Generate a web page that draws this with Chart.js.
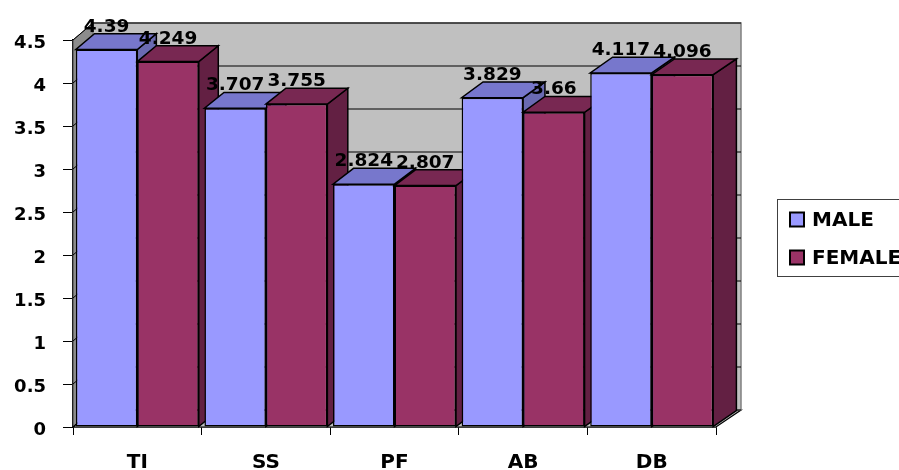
<!DOCTYPE html>
<html>
<head>
<meta charset="utf-8">
<script src="https://cdn.jsdelivr.net/npm/chart.js@4"></script>
<style>
  html, body { margin: 0; padding: 0; background: #ffffff; }
  #wrap { width: 899px; height: 470px; position: relative; }
</style>
</head>
<body>
<div id="wrap"><canvas id="c" width="899" height="470"></canvas></div>
<script>
// ---- data ----
const categories = ['TI', 'SS', 'PF', 'AB', 'DB'];
const seriesLabels = ['MALE', 'FEMALE'];
const maleValues = [4.39, 3.707, 2.824, 3.829, 4.117];
const femaleValues = [4.249, 3.755, 2.807, 3.66, 4.096];
const yMin = 0, yMax = 4.5, yStep = 0.5;

// ---- styles ----
const FONT = '"DejaVu Sans", sans-serif';
const frontColors = ['#9999FF', '#993366'];
const topColors = ['#7777CC', '#782852'];
const sideColors = ['#6A6AB2', '#632043'];
const WDXL = 20, WDXR = 25, WDY = 17, BD = 0.93;

function proj(a, x, y, d) {
  const dx = WDXL + (WDXR - WDXL) * (x - a.left) / (a.right - a.left);
  return [x + d * dx, y - d * WDY];
}
function poly(ctx, pts, fill, stroke, lw) {
  ctx.beginPath();
  ctx.moveTo(pts[0][0], pts[0][1]);
  for (let i = 1; i < pts.length; i++) ctx.lineTo(pts[i][0], pts[i][1]);
  ctx.closePath();
  if (fill) { ctx.fillStyle = fill; ctx.fill(); }
  if (stroke) { ctx.strokeStyle = stroke; ctx.lineWidth = lw || 1; ctx.stroke(); }
}

const threeD = {
  id: 'threeD',
  beforeDatasetsDraw(chart) {
    const ctx = chart.ctx, a = chart.chartArea, ys = chart.scales.y;
    ctx.save();
    ctx.lineJoin = 'miter';
    // left side wall
    poly(ctx, [proj(a, a.left, a.top, 0), proj(a, a.left, a.top, 1), proj(a, a.left, a.bottom, 1), proj(a, a.left, a.bottom, 0)], '#8C8C8C', '#404040', 1);
    // floor
    poly(ctx, [proj(a, a.left, a.bottom, 0), proj(a, a.right, a.bottom, 0), proj(a, a.right, a.bottom, 1), proj(a, a.left, a.bottom, 1)], '#C0C0C0', '#000000', 1.2);
    // back wall
    poly(ctx, [proj(a, a.left, a.top, 1), proj(a, a.right, a.top, 1), proj(a, a.right, a.bottom, 1), proj(a, a.left, a.bottom, 1)], '#C0C0C0', '#808080', 1.5);
    // grid lines on walls
    ctx.strokeStyle = '#000000';
    ctx.lineWidth = 1;
    ys.ticks.forEach(t => {
      const py = ys.getPixelForValue(t.value);
      const p0 = proj(a, a.left, py, 0), p1 = proj(a, a.left, py, 1), p2 = proj(a, a.right, py, 1);
      ctx.beginPath();
      ctx.moveTo(p0[0], p0[1]); ctx.lineTo(p1[0], p1[1]); ctx.lineTo(p2[0], p2[1]);
      ctx.stroke();
    });
    // bars, left to right
    const bars = [];
    chart.data.datasets.forEach((ds, di) => {
      chart.getDatasetMeta(di).data.forEach((el, i) => bars.push({ el, di, i }));
    });
    bars.sort((p, q) => p.el.x - q.el.x);
    bars.forEach(({ el, di }) => {
      const p = el.getProps(['x', 'y', 'base', 'width'], true);
      const l = p.x - p.width / 2, r = p.x + p.width / 2, t = p.y, b = p.base;
      poly(ctx, [proj(a, r, t, 0), proj(a, r, t, BD), proj(a, r, b, BD), proj(a, r, b, 0)], sideColors[di], '#000000', 1.5);
      poly(ctx, [proj(a, l, t, 0), proj(a, r, t, 0), proj(a, r, t, BD), proj(a, l, t, BD)], topColors[di], '#000000', 1.5);
      el.draw(ctx, a);
    });
    ctx.restore();
    return false;
  },
  afterDraw(chart) {
    const ctx = chart.ctx, a = chart.chartArea;
    ctx.save();
    // value labels
    ctx.font = 'bold 18.5px ' + FONT;
    ctx.fillStyle = '#000000';
    ctx.textAlign = 'center';
    ctx.textBaseline = 'alphabetic';
    chart.data.datasets.forEach((ds, di) => {
      chart.getDatasetMeta(di).data.forEach((el, i) => {
        const p = el.getProps(['x', 'y'], true);
        const tp = proj(a, p.x, p.y, BD);
        ctx.fillText(String(ds.data[i]), p.x, tp[1] - 2);
      });
    });
    // legend
    ctx.fillStyle = '#FFFFFF';
    ctx.fillRect(777.5, 199.5, 140, 77);
    ctx.strokeStyle = '#404040';
    ctx.lineWidth = 1;
    ctx.strokeRect(777.5, 199.5, 140, 77);
    ctx.font = 'bold 20px ' + FONT;
    ctx.textAlign = 'left';
    ctx.textBaseline = 'middle';
    const rows = [219.5, 257.5];
    chart.data.datasets.forEach((ds, di) => {
      const cy = rows[di];
      ctx.fillStyle = frontColors[di];
      ctx.fillRect(790, cy - 7, 14, 14);
      ctx.strokeStyle = '#000000';
      ctx.lineWidth = 2;
      ctx.strokeRect(790, cy - 7, 14, 14);
      ctx.fillStyle = '#000000';
      ctx.fillText(ds.label, 812, cy + 1);
    });
    ctx.restore();
  }
};

new Chart(document.getElementById('c'), {
  type: 'bar',
  data: {
    labels: categories,
    datasets: [
      { label: seriesLabels[0], data: maleValues, backgroundColor: frontColors[0] },
      { label: seriesLabels[1], data: femaleValues, backgroundColor: frontColors[1] }
    ]
  },
  options: {
    responsive: false,
    animation: false,
    events: [],
    layout: { padding: { top: 40, right: 183, left: 0, bottom: 0 } },
    datasets: {
      bar: {
        borderColor: '#000000',
        borderWidth: 1.5,
        borderSkipped: false,
        barPercentage: 1,
        categoryPercentage: 0.956
      }
    },
    plugins: { legend: { display: false }, tooltip: { enabled: false } },
    scales: {
      x: {
        z: 1,
        grid: { display: true, drawOnChartArea: false, drawTicks: true, tickLength: 8, color: '#000000', offset: true },
        border: { display: true, color: '#000000', width: 1.5 },
        ticks: { color: '#000000', font: { family: FONT, size: 20, weight: 'bold' }, padding: 16 },
        afterFit(s) { s.height = 43; }
      },
      y: {
        z: 1,
        min: yMin,
        max: yMax,
        grid: { display: true, drawOnChartArea: false, drawTicks: true, tickLength: 10, color: '#000000' },
        border: { display: true, color: '#000000', width: 1.5 },
        ticks: {
          stepSize: yStep, color: '#000000', font: { family: FONT, size: 18, weight: 'bold' }, padding: 17, labelOffset: 3,
          callback: v => String(Math.round(v * 10) / 10)
        },
        afterFit(s) { s.width = 73; }
      }
    }
  },
  plugins: [threeD]
});
</script>
</body>
</html>
